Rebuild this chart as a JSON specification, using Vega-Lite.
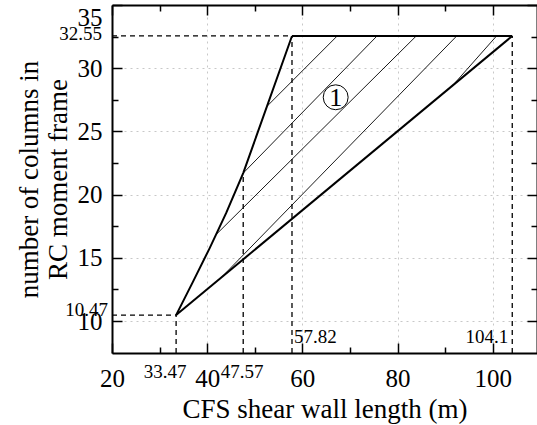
{
  "$schema": "https://vega.github.io/schema/vega-lite/v6.json",
  "width": 425,
  "height": 348,
  "autosize": {"type": "none"},
  "padding": {"left": 112, "top": 5, "right": 0, "bottom": 72},
  "background": "white",
  "config": {
    "view": {"stroke": null},
    "font": "Liberation Serif",
    "axis": {
      "labelFont": "Liberation Serif",
      "labelFontSize": 25,
      "labelColor": "black",
      "labelOverlap": false,
      "domainColor": "black",
      "domainWidth": 2,
      "tickColor": "black",
      "tickWidth": 1.5,
      "titleFont": "Liberation Serif",
      "titleFontSize": 27,
      "titleFontWeight": "normal",
      "titleColor": "black"
    }
  },
  "datasets": {
    "upperCurve": [
      {"x": 33.47, "y": 10.47},
      {"x": 37.0, "y": 13.1},
      {"x": 40.5, "y": 15.75},
      {"x": 44.0, "y": 18.55},
      {"x": 47.57, "y": 21.7},
      {"x": 57.82, "y": 32.55}
    ],
    "boundary": [
      {"x": 57.82, "y": 32.55, "x2": 104.1, "y2": 32.55},
      {"x": 33.47, "y": 10.47, "x2": 104.1, "y2": 32.55}
    ],
    "hatch": [
      {"x": 67.32, "y": 32.55, "x2": 52.6, "y2": 27.0},
      {"x": 75.69, "y": 32.55, "x2": 47.57, "y2": 21.7},
      {"x": 83.93, "y": 32.55, "x2": 41.9, "y2": 16.85},
      {"x": 92.43, "y": 32.55, "x2": 42.6, "y2": 13.3},
      {"x": 100.8, "y": 32.55, "x2": 91.7, "y2": 28.68}
    ],
    "guides": [
      {"x": 20, "y": 32.55, "x2": 57.82, "y2": 32.55},
      {"x": 57.82, "y": 7.47, "x2": 57.82, "y2": 32.55},
      {"x": 104.1, "y": 7.47, "x2": 104.1, "y2": 32.55},
      {"x": 20, "y": 10.47, "x2": 33.47, "y2": 10.47},
      {"x": 33.47, "y": 7.47, "x2": 33.47, "y2": 10.47},
      {"x": 47.57, "y": 7.47, "x2": 47.57, "y2": 21.7}
    ],
    "region": [{"x": 67.0, "y": 27.7, "label": "1"}],
    "xMarkLow": [{"x": 33.47, "y": 6.0, "label": "33.47"}],
    "xMarkMid": [{"x": 47.57, "y": 6.0, "label": "47.57"}],
    "yMarkLow": [{"x": 20, "y": 10.47, "label": "10.47"}],
    "yMarkHigh": [{"x": 20, "y": 32.55, "label": "32.55"}],
    "innerLeft": [{"x": 57.82, "y": 8.75, "label": "57.82"}],
    "innerRight": [{"x": 104.1, "y": 8.75, "label": "104.1"}]
  },
  "resolve": {"axis": {"x": "independent", "y": "independent"}},
  "layer": [
    {
      "data": {"name": "upperCurve"},
      "mark": {"type": "line", "color": "black", "strokeWidth": 2},
      "encoding": {
        "x": {
          "field": "x", "type": "quantitative",
          "scale": {"domain": [20, 109.3], "nice": false, "zero": false},
          "axis": {
            "orient": "bottom",
            "values": [20, 30, 40, 50, 60, 70, 80, 90, 100],
            "labelExpr": "datum.value % 20 === 0 ? datum.label : ''",
            "tickSize": {"condition": {"test": "datum.value % 20 === 0", "value": -10}, "value": -6},
            "labelPadding": 23,
            "labelFlush": false,
            "grid": true,
            "gridColor": "#c8c8c8",
            "gridDash": [2, 4],
            "gridWidth": 1,
            "gridOpacity": {"condition": {"test": "datum.value % 20 === 0 && datum.value > 20", "value": 1}, "value": 0},
            "title": "CFS shear wall length (m)",
            "titlePadding": 1
          }
        },
        "y": {
          "field": "y", "type": "quantitative",
          "scale": {"domain": [7.47, 35], "nice": false, "zero": false},
          "axis": {
            "orient": "left",
            "values": [10, 12.5, 15, 17.5, 20, 22.5, 25, 27.5, 30, 32.5, 35],
            "labelExpr": "datum.value % 5 === 0 ? datum.label : ''",
            "tickSize": {"condition": {"test": "datum.value % 5 === 0", "value": -10}, "value": -6},
            "labelPadding": 20,
            "labelFlush": true,
            "grid": true,
            "gridColor": "#c8c8c8",
            "gridDash": [2, 4],
            "gridWidth": 1,
            "gridOpacity": {"condition": {"test": "datum.value % 5 === 0 && datum.value < 35", "value": 1}, "value": 0},
            "title": ["number of columns in", "RC moment frame"],
            "titleLineHeight": 29,
            "titlePadding": 5
          }
        }
      }
    },
    {
      "data": {"name": "hatch"},
      "mark": {"type": "rule", "color": "black", "strokeWidth": 0.9},
      "encoding": {
        "x": {
          "field": "x", "type": "quantitative",
          "scale": {"domain": [20, 109.3], "nice": false, "zero": false},
          "axis": {
            "orient": "top",
            "values": [20, 30, 40, 50, 60, 70, 80, 90, 100],
            "labels": false,
            "tickSize": {"condition": {"test": "datum.value % 20 === 0", "value": -10}, "value": -6},
            "grid": false,
            "title": null
          }
        },
        "y": {
          "field": "y", "type": "quantitative",
          "scale": {"domain": [7.47, 35], "nice": false, "zero": false},
          "axis": {
            "orient": "right",
            "values": [10, 12.5, 15, 17.5, 20, 22.5, 25, 27.5, 30, 32.5, 35],
            "labels": false,
            "tickSize": {"condition": {"test": "datum.value % 5 === 0", "value": -10}, "value": -6},
            "grid": false,
            "title": null
          }
        },
        "x2": {"field": "x2"},
        "y2": {"field": "y2"}
      }
    },
    {
      "data": {"name": "guides"},
      "mark": {"type": "rule", "color": "black", "strokeWidth": 1.3, "strokeDash": [5, 4]},
      "encoding": {
        "x": {"field": "x", "type": "quantitative", "scale": {"domain": [20, 109.3], "nice": false, "zero": false}, "axis": null},
        "y": {"field": "y", "type": "quantitative", "scale": {"domain": [7.47, 35], "nice": false, "zero": false}, "axis": null},
        "x2": {"field": "x2"},
        "y2": {"field": "y2"}
      }
    },
    {
      "data": {"name": "boundary"},
      "mark": {"type": "rule", "color": "black", "strokeWidth": 2},
      "encoding": {
        "x": {"field": "x", "type": "quantitative", "scale": {"domain": [20, 109.3], "nice": false, "zero": false}, "axis": null},
        "y": {"field": "y", "type": "quantitative", "scale": {"domain": [7.47, 35], "nice": false, "zero": false}, "axis": null},
        "x2": {"field": "x2"},
        "y2": {"field": "y2"}
      }
    },
    {
      "data": {"name": "region"},
      "mark": {"type": "point", "shape": "circle", "size": 620, "filled": false, "fill": "white", "fillOpacity": 1, "stroke": "black", "strokeWidth": 1, "opacity": 1},
      "encoding": {
        "x": {"field": "x", "type": "quantitative", "scale": {"domain": [20, 109.3], "nice": false, "zero": false}, "axis": null},
        "y": {"field": "y", "type": "quantitative", "scale": {"domain": [7.47, 35], "nice": false, "zero": false}, "axis": null}
      }
    },
    {
      "data": {"name": "region"},
      "mark": {"type": "text", "font": "Liberation Serif", "fontSize": 26, "color": "black", "align": "center", "baseline": "middle", "dy": 1},
      "encoding": {
        "x": {"field": "x", "type": "quantitative", "scale": {"domain": [20, 109.3], "nice": false, "zero": false}, "axis": null},
        "y": {"field": "y", "type": "quantitative", "scale": {"domain": [7.47, 35], "nice": false, "zero": false}, "axis": null},
        "text": {"field": "label"}
      }
    },
    {
      "data": {"name": "xMarkLow"},
      "mark": {"type": "text", "font": "Liberation Serif", "fontSize": 19, "color": "black", "align": "center", "baseline": "middle", "dx": -11},
      "encoding": {
        "x": {"field": "x", "type": "quantitative", "scale": {"domain": [20, 109.3], "nice": false, "zero": false}, "axis": null},
        "y": {"field": "y", "type": "quantitative", "scale": {"domain": [7.47, 35], "nice": false, "zero": false}, "axis": null},
        "text": {"field": "label"}
      }
    },
    {
      "data": {"name": "xMarkMid"},
      "mark": {"type": "text", "font": "Liberation Serif", "fontSize": 19, "color": "black", "align": "center", "baseline": "middle", "dx": -1},
      "encoding": {
        "x": {"field": "x", "type": "quantitative", "scale": {"domain": [20, 109.3], "nice": false, "zero": false}, "axis": null},
        "y": {"field": "y", "type": "quantitative", "scale": {"domain": [7.47, 35], "nice": false, "zero": false}, "axis": null},
        "text": {"field": "label"}
      }
    },
    {
      "data": {"name": "yMarkLow"},
      "mark": {"type": "text", "font": "Liberation Serif", "fontSize": 19, "color": "black", "align": "right", "baseline": "middle", "dx": -4, "dy": -5},
      "encoding": {
        "x": {"field": "x", "type": "quantitative", "scale": {"domain": [20, 109.3], "nice": false, "zero": false}, "axis": null},
        "y": {"field": "y", "type": "quantitative", "scale": {"domain": [7.47, 35], "nice": false, "zero": false}, "axis": null},
        "text": {"field": "label"}
      }
    },
    {
      "data": {"name": "yMarkHigh"},
      "mark": {"type": "text", "font": "Liberation Serif", "fontSize": 19, "color": "black", "align": "right", "baseline": "middle", "dx": -10, "dy": -2},
      "encoding": {
        "x": {"field": "x", "type": "quantitative", "scale": {"domain": [20, 109.3], "nice": false, "zero": false}, "axis": null},
        "y": {"field": "y", "type": "quantitative", "scale": {"domain": [7.47, 35], "nice": false, "zero": false}, "axis": null},
        "text": {"field": "label"}
      }
    },
    {
      "data": {"name": "innerLeft"},
      "mark": {"type": "text", "font": "Liberation Serif", "fontSize": 19, "color": "black", "align": "left", "baseline": "middle", "dx": 2},
      "encoding": {
        "x": {"field": "x", "type": "quantitative", "scale": {"domain": [20, 109.3], "nice": false, "zero": false}, "axis": null},
        "y": {"field": "y", "type": "quantitative", "scale": {"domain": [7.47, 35], "nice": false, "zero": false}, "axis": null},
        "text": {"field": "label"}
      }
    },
    {
      "data": {"name": "innerRight"},
      "mark": {"type": "text", "font": "Liberation Serif", "fontSize": 19, "color": "black", "align": "right", "baseline": "middle", "dx": -4},
      "encoding": {
        "x": {"field": "x", "type": "quantitative", "scale": {"domain": [20, 109.3], "nice": false, "zero": false}, "axis": null},
        "y": {"field": "y", "type": "quantitative", "scale": {"domain": [7.47, 35], "nice": false, "zero": false}, "axis": null},
        "text": {"field": "label"}
      }
    }
  ]
}
